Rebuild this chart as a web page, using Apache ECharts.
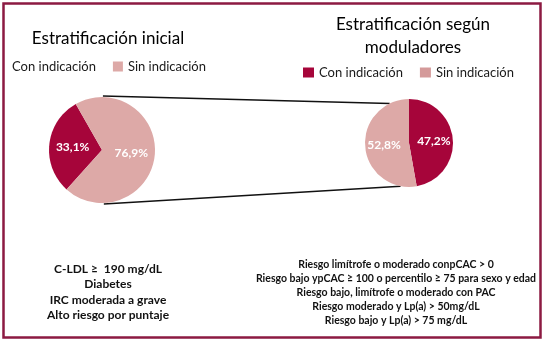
<!DOCTYPE html>
<html>
<head>
<meta charset="utf-8">
<script src="https://cdn.jsdelivr.net/npm/echarts@6/dist/echarts.min.js"></script>
<style>
    html, body { margin: 0; padding: 0; background: #fff; }
    #chart { width: 545px; height: 342px; }
</style>
</head>
<body>
<div id="chart"></div>
<script>
// categorias y valores (tal como aparecen en la figura)
var categories = ['Con indicación', 'Sin indicación'];
var inicialValues = [33.1, 76.9];
var moduladoresValues = [47.2, 52.8];
var inicialNotes = ['C-LDL ≥  190 mg/dL', 'Diabetes', 'IRC moderada a grave', 'Alto riesgo por puntaje'];
var moduladoresNotes = [
    'Riesgo limítrofe o moderado conpCAC > 0',
    'Riesgo bajo ypCAC ≥ 100 o percentilo ≥ 75 para sexo y edad',
    'Riesgo bajo, limítrofe o moderado con PAC',
    'Riesgo moderado y Lp(a) > 50mg/dL',
    'Riesgo bajo y Lp(a) > 75 mg/dL'
];

var colors = ['#a6053a', '#dda9a7'];
var fontFamily = 'Lato, "Liberation Sans", sans-serif';

// geometria de las tortas
var leftPie = { cx: 102, cy: 150, r: 53 };
var rightPie = { cx: 409, cy: 143, r: 44 };

function toData(values) {
    return categories.map(function (name, i) {
        return { name: name, value: values[i], itemStyle: { color: colors[i] } };
    });
}

function pctLabel(p) {
    return String(p.value).replace('.', ',') + '%';
}

// punto sobre el borde de una torta (angulo en grados, horario desde arriba)
function edgePoint(pie, deg) {
    var a = deg * Math.PI / 180;
    return [pie.cx + pie.r * Math.sin(a), pie.cy - pie.r * Math.cos(a)];
}

var myChart = echarts.init(document.getElementById('chart'));

var topA = edgePoint(leftPie, 1), topB = edgePoint(rightPie, 334);
var botA = edgePoint(leftPie, 178), botB = edgePoint(rightPie, 191);

myChart.setOption({
    animation: false,
    textStyle: { fontFamily: fontFamily },
    title: [
        {
            text: 'Estratificación inicial',
            left: 103, top: 25, textAlign: 'center',
            textStyle: { fontSize: 17, fontWeight: 'normal', color: '#000', fontFamily: fontFamily }
        },
        {
            text: 'Estratificación según\nmoduladores',
            left: 408, top: 8, textAlign: 'center',
            textStyle: { fontSize: 17, fontWeight: 'normal', color: '#000', lineHeight: 23, fontFamily: fontFamily }
        },
        {
            text: inicialNotes.join('\n'),
            left: 103, top: 256, textAlign: 'center',
            textStyle: { fontSize: 12, fontWeight: 'bold', color: '#111', lineHeight: 15.5, fontFamily: fontFamily }
        },
        {
            text: moduladoresNotes.join('\n'),
            left: 391, top: 253, textAlign: 'center',
            textStyle: { fontSize: 10.5, fontWeight: 'bold', color: '#111', lineHeight: 14, fontFamily: fontFamily }
        }
    ],
    legend: [
        {
            left: -3, top: 60, padding: 0,
            itemWidth: 10, itemHeight: 10, itemGap: 17,
            icon: 'rect',
            selectedMode: false,
            textStyle: { fontSize: 13, color: '#1a1a1a', fontFamily: fontFamily },
            data: [
                { name: categories[0], itemStyle: { opacity: 0 } },
                { name: categories[1], itemStyle: { color: colors[1] } }
            ]
        },
        {
            left: 303, top: 66, padding: 0,
            itemWidth: 11, itemHeight: 10, itemGap: 17,
            icon: 'rect',
            selectedMode: false,
            textStyle: { fontSize: 13, color: '#1a1a1a', fontFamily: fontFamily },
            data: [
                { name: categories[0], itemStyle: { color: colors[0] } },
                { name: categories[1], itemStyle: { color: '#d49a9a' } }
            ]
        }
    ],
    graphic: [
        {
            type: 'rect', silent: true,
            shape: { x: 3.5, y: 3.5, width: 537, height: 334 },
            style: { fill: 'none', stroke: '#8c1a42', lineWidth: 2.5 }
        },
        {
            type: 'line', silent: true, z: 1,
            shape: { x1: topA[0], y1: topA[1] - 1, x2: topB[0], y2: topB[1] },
            style: { stroke: '#111', lineWidth: 1.5 }
        },
        {
            type: 'line', silent: true, z: 1,
            shape: { x1: botA[0], y1: botA[1] + 1, x2: botB[0], y2: botB[1] },
            style: { stroke: '#111', lineWidth: 1.5 }
        }
    ],
    series: [
        {
            type: 'pie',
            center: [leftPie.cx, leftPie.cy],
            radius: [0, leftPie.r],
            startAngle: 228,
            clockwise: true,
            z: 3,
            emphasis: { disabled: true },
            label: {
                show: true, position: 'inner', formatter: pctLabel,
                color: '#fff', fontWeight: 'bold', fontSize: 12, fontFamily: fontFamily
            },
            labelLine: { show: false },
            data: toData(inicialValues)
        },
        {
            type: 'pie',
            center: [rightPie.cx, rightPie.cy],
            radius: [0, rightPie.r],
            startAngle: 90,
            clockwise: true,
            z: 3,
            emphasis: { disabled: true },
            label: {
                show: true, position: 'inner', formatter: pctLabel,
                color: '#fff', fontWeight: 'bold', fontSize: 12, fontFamily: fontFamily
            },
            labelLine: { show: false },
            data: toData(moduladoresValues)
        }
    ]
});
</script>
</body>
</html>
